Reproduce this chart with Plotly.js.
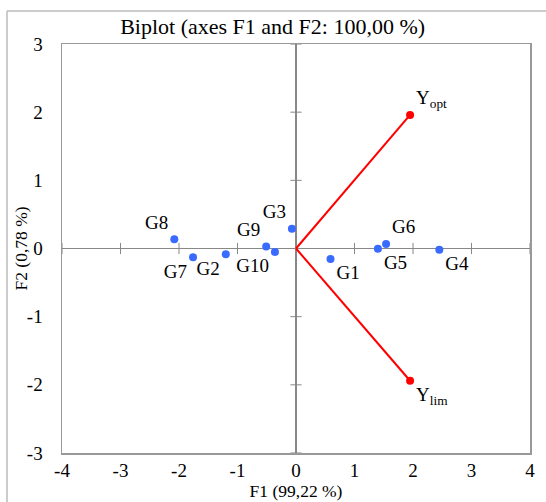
<!DOCTYPE html>
<html><head><meta charset="utf-8">
<script src="https://cdn.plot.ly/plotly-3.0.1.min.js"></script>
<style>html,body{margin:0;padding:0;background:#fff}#chart{width:546px;height:502px}</style>
</head><body><div id="chart"></div>
<script>
const obsLabels = ["G1","G2","G3","G4","G5","G6","G7","G8","G9","G10"];
const obsF1 = [0.59,-1.20,-0.07,2.45,1.40,1.54,-1.76,-2.08,-0.51,-0.36];
const obsF2 = [-0.155,-0.085,0.29,-0.02,-0.003,0.066,-0.13,0.135,0.03,-0.05];
const obsTextPos = ["bottom right","bottom left","top left","bottom right","bottom right","top right","bottom left","top left","top left","bottom left"];
const varLabels = ["Y<sub>opt</sub>","Y<sub>lim</sub>"];
const varF1 = [1.95,1.95];
const varF2 = [1.96,-1.94];
const varTextPos = ["top right","bottom right"];
const xTicks = [-4,-3,-2,-1,0,1,2,3,4];
const xTickText = ["-4","-3","-2","-1","0","1","2","3","4"];
const yTicks = [-3,-2,-1,0,1,2,3];
const yTickText = ["-3","-2","-1","0","1","2","3"];

const fam = "Liberation Serif";
const f = (s)=>({family:fam, size:s, color:"#000"});
const traces = [];
traces.push({x:xTicks, y:xTicks.map(()=>0), mode:"markers", hoverinfo:"skip", showlegend:false,
  marker:{symbol:"line-ns", size:8, line:{color:"#888", width:1}}});
traces.push({x:yTicks.map(()=>0), y:yTicks, mode:"markers", hoverinfo:"skip", showlegend:false,
  marker:{symbol:"line-ew", size:8, line:{color:"#888", width:1}}});
varF1.forEach((v,i)=>{
  traces.push({x:[0,v], y:[0,varF2[i]], mode:"lines", line:{color:"#ff0000", width:2}, showlegend:false, hoverinfo:"skip"});
});
traces.push({x:varF1, y:varF2, mode:"markers+text", text:varLabels, textposition:varTextPos,
  textfont:f(19), marker:{color:"#ff0000", size:8}, showlegend:false, cliponaxis:false});
traces.push({x:obsF1, y:obsF2, mode:"markers+text", text:obsLabels, textposition:obsTextPos,
  textfont:f(19), marker:{color:"#3a6bff", size:8}, showlegend:false, cliponaxis:false});

const layout = {
  width:546, height:502,
  margin:{l:62, r:16, t:44, b:49},
  paper_bgcolor:"#fff", plot_bgcolor:"#fff",
  font:f(19),
  title:{text:"Biplot (axes F1 and F2: 100,00 %)", font:f(22), x:0.45, xref:"paper", xanchor:"center", y:0.948, yref:"container", yanchor:"middle"},
  xaxis:{range:[-4,4], tickvals:xTicks, ticktext:xTickText, showgrid:false, zeroline:true, zerolinecolor:"#888", zerolinewidth:1.5,
    showline:true, mirror:true, linecolor:"#999", linewidth:1.5, ticks:"", tickfont:f(19),
    title:{text:"F1 (99,22 %)", font:f(17.5), standoff:2}},
  yaxis:{range:[-3,3], tickvals:yTicks, ticktext:yTickText, showgrid:false, zeroline:true, zerolinecolor:"#888", zerolinewidth:1.5,
    showline:true, mirror:true, linecolor:"#999", linewidth:1.5, ticks:"", ticklabelstandoff:14, tickfont:f(19)},
  annotations:[
    {text:"F2 (0,78 %)", textangle:-90, xref:"paper", yref:"paper", x:-42/468, y:0.5, xanchor:"center", yanchor:"middle", showarrow:false, font:f(17.5)}
  ],
  shapes:[
    {type:"line", xref:"paper", yref:"paper", x0:-55/468, x1:1.1, y0:1+33/409, y1:1+33/409, line:{color:"#bbb", width:1.5}},
    {type:"line", xref:"paper", yref:"paper", x0:-55/468, x1:-55/468, y0:1+33/409, y1:-0.2, line:{color:"#bbb", width:1.5}}
  ]
};
Plotly.newPlot("chart", traces, layout, {staticPlot:true, displayModeBar:false});
</script></body></html>
